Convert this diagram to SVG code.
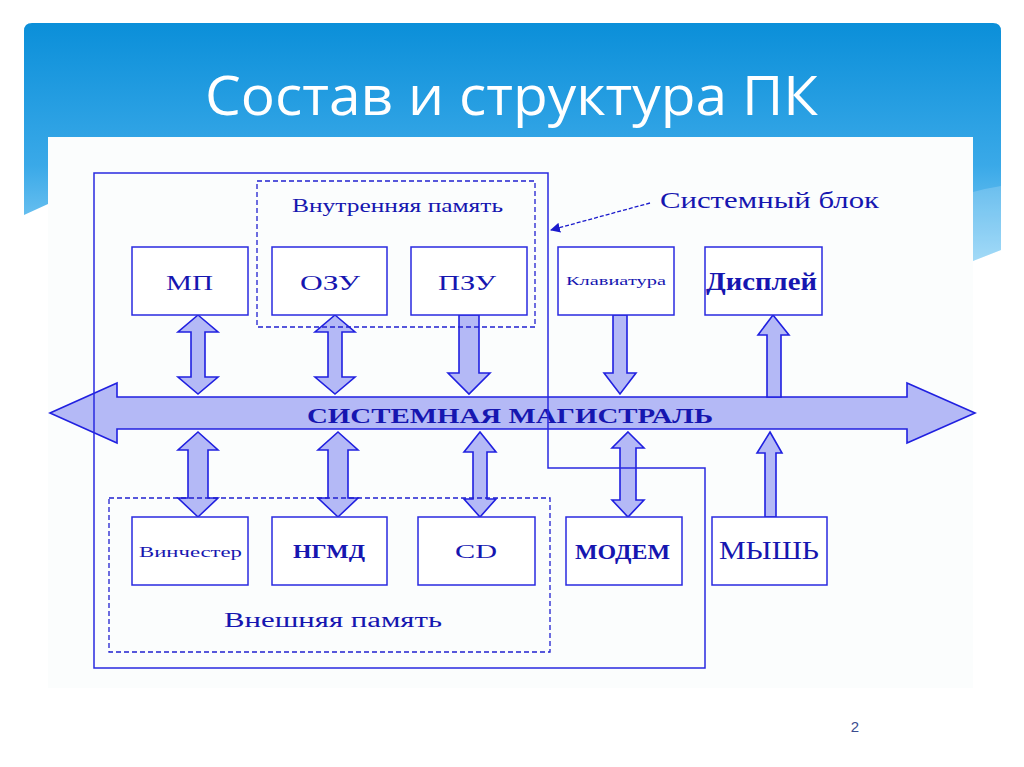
<svg xmlns="http://www.w3.org/2000/svg" width="1024" height="767" viewBox="0 0 1024 767">
<defs>
<linearGradient id="hdr" x1="0" y1="23" x2="0" y2="261" gradientUnits="userSpaceOnUse">
<stop offset="0" stop-color="#0b8fd9"/>
<stop offset="0.6" stop-color="#3aa9e8"/>
<stop offset="1" stop-color="#8ed2f6"/>
</linearGradient>
<marker id="ptr" viewBox="0 0 10 10" refX="9" refY="5" markerWidth="10" markerHeight="10" markerUnits="userSpaceOnUse" orient="auto">
<path d="M0,0 L10,5 L0,10 Z" fill="#1a1acc"/>
</marker>
<style>
.box{fill:#ffffff;stroke:#2a2ae0;stroke-width:1.5}
.arr{fill:#b4b9f6;stroke:#2020e0;stroke-width:1.6;stroke-linejoin:miter}
.dash{fill:none;stroke:#2020d0;stroke-width:1.3;stroke-dasharray:5,3}
.blk{fill:none;stroke:#2a2ae0;stroke-width:1.5}
.lbl{font-family:"Liberation Serif","Times New Roman",serif;fill:#1616b0}
</style>
</defs>
<rect width="1024" height="767" fill="#ffffff"/>
<path d="M24,31 Q24,23 32,23 L993,23 Q1001,23 1001,31 L1001,250 L973,261 L973,137 L48,137 L48,204 L24,215 Z" fill="url(#hdr)"/>
<path d="M973,192 Q988,188 1001,186 L1001,250 L973,261 Z" fill="#ffffff" fill-opacity="0.18"/>
<text x="205" y="115" font-family="'Open Sans','Liberation Sans',sans-serif" font-size="54" fill="#ffffff" textLength="613" lengthAdjust="spacingAndGlyphs">Состав и структура ПК</text>
<rect x="48" y="137" width="925" height="551" fill="#fbfdfd"/>

<g id="connectors">
<path id="bus" class="arr" d="M50,413 L117,383 L117,397 L907,397 L907,383 L975,413 L907,443 L907,429 L117,429 L117,443 Z"/>
<path class="arr" d="M198,315 L218,332 L205,332 L205,377 L218,377 L198,394 L178,377 L191,377 L191,332 L178,332 Z"/>
<path class="arr" d="M335,315 L355,332 L342,332 L342,377 L355,377 L335,394 L315,377 L328,377 L328,332 L315,332 Z"/>
<path class="arr" d="M459,315 L479,315 L479,373 L490,373 L469,394 L448,373 L459,373 Z"/>
<path class="arr" d="M613,315 L627,315 L627,373 L636,373 L620,394 L604,373 L613,373 Z"/>
<path class="arr" d="M773,315 L789,335 L781,335 L781,397 L767,397 L767,335 L758,335 Z"/>
<path class="arr" d="M198,432 L218,450 L208,450 L208,498 L218,498 L198,517 L178,498 L188,498 L188,450 L178,450 Z"/>
<path class="arr" d="M338,432 L358,450 L348,450 L348,498 L358,498 L338,517 L318,498 L328,498 L328,450 L318,450 Z"/>
<path class="arr" d="M480,432 L496,452 L487,452 L487,499 L496,499 L480,517 L464,499 L473,499 L473,452 L464,452 Z"/>
<path class="arr" d="M628,432 L644,448 L636,448 L636,500 L644,500 L628,517 L612,500 L620,500 L620,448 L612,448 Z"/>
<path class="arr" d="M770,432 L782,453 L776,453 L776,517 L765,517 L765,453 L757,453 Z"/>
<text class="lbl" x="307" y="423" font-size="22" font-weight="bold" fill="#14149a" textLength="406" lengthAdjust="spacingAndGlyphs">СИСТЕМНАЯ МАГИСТРАЛЬ</text>
<line x1="650" y1="203" x2="551" y2="230" stroke="#1a1acc" stroke-width="1.3" stroke-dasharray="4,2" marker-end="url(#ptr)"/>
</g>

<g id="system-block">
<path class="blk" d="M94,173 L548,173 L548,468 L705,468 L705,668 L94,668 Z"/>
<text class="lbl" x="660" y="208" font-size="23" textLength="219" lengthAdjust="spacingAndGlyphs">Системный блок</text>
</g>

<g id="internal-memory">
<rect class="dash" x="257" y="181" width="278" height="146"/>
<text class="lbl" x="292" y="212" font-size="18" textLength="211" lengthAdjust="spacingAndGlyphs">Внутренняя память</text>
</g>

<g id="external-memory">
<rect class="dash" x="109" y="498" width="441" height="154"/>
<text class="lbl" x="224" y="627" font-size="20" textLength="218" lengthAdjust="spacingAndGlyphs">Внешняя память</text>
</g>

<g id="mp">
<rect class="box" x="132" y="247" width="116" height="68"/>
<text class="lbl" x="166" y="290" font-size="22" textLength="47" lengthAdjust="spacingAndGlyphs">МП</text>
</g>
<g id="ozu">
<rect class="box" x="272" y="247" width="115" height="68"/>
<text class="lbl" x="300" y="290" font-size="22" textLength="60" lengthAdjust="spacingAndGlyphs">ОЗУ</text>
</g>
<g id="pzu">
<rect class="box" x="411" y="247" width="116" height="68"/>
<text class="lbl" x="438" y="290" font-size="22" textLength="58" lengthAdjust="spacingAndGlyphs">ПЗУ</text>
</g>
<g id="keyboard">
<rect class="box" x="558" y="247" width="116" height="68"/>
<text class="lbl" x="566" y="285" font-size="13" textLength="100" lengthAdjust="spacingAndGlyphs">Клавиатура</text>
</g>
<g id="display">
<rect class="box" x="705" y="247" width="117" height="68"/>
<text class="lbl" x="706" y="290" font-size="25" font-weight="bold" textLength="111" lengthAdjust="spacingAndGlyphs">Дисплей</text>
</g>

<g id="hdd">
<rect class="box" x="132" y="517" width="116" height="68"/>
<text class="lbl" x="139" y="557" font-size="14" textLength="103" lengthAdjust="spacingAndGlyphs">Винчестер</text>
</g>
<g id="ngmd">
<rect class="box" x="272" y="517" width="115" height="68"/>
<text class="lbl" x="293" y="558" font-size="19" font-weight="bold" textLength="72" lengthAdjust="spacingAndGlyphs">НГМД</text>
</g>
<g id="cd">
<rect class="box" x="418" y="517" width="117" height="68"/>
<text class="lbl" x="455" y="558" font-size="19" textLength="42" lengthAdjust="spacingAndGlyphs">CD</text>
</g>
<g id="modem">
<rect class="box" x="566" y="517" width="116" height="68"/>
<text class="lbl" x="575" y="559" font-size="20" font-weight="bold" textLength="95" lengthAdjust="spacingAndGlyphs">МОДЕМ</text>
</g>
<g id="mouse">
<rect class="box" x="712" y="517" width="115" height="68"/>
<text class="lbl" x="719" y="559" font-size="25" textLength="100" lengthAdjust="spacingAndGlyphs">МЫШЬ</text>
</g>

<text x="855" y="732" font-family="'Liberation Sans',Arial,sans-serif" font-size="15" fill="#3b4d8f" text-anchor="middle">2</text>
</svg>
